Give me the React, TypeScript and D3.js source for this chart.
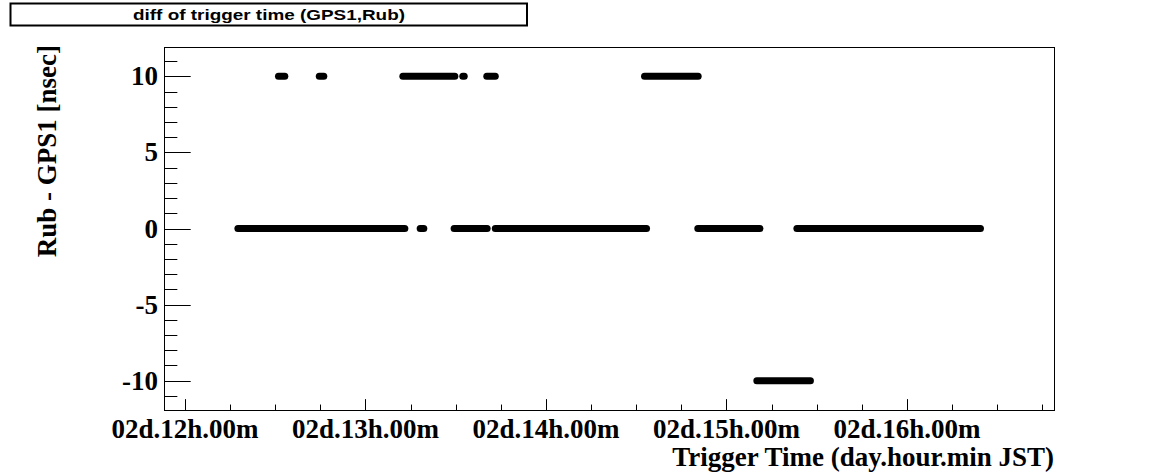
import React from "react";
import * as d3 from "d3";

// Time in hours (day 02), values in nsec
const segStart = [12.518, 12.744, 13.207, 13.539, 13.672, 14.546, 12.293, 13.303, 13.491, 13.719, 14.841, 15.390, 15.168];
const segEnd =   [12.553, 12.769, 13.495, 13.547, 13.719, 14.843, 13.218, 13.323, 13.674, 14.557, 15.185, 16.407, 15.465];
const segValue = [10, 10, 10, 10, 10, 10, 0, 0, 0, 0, 0, 0, -10];

const xMajor = [12, 13, 14, 15, 16];
const xMajorLabels = ["02d.12h.00m", "02d.13h.00m", "02d.14h.00m", "02d.15h.00m", "02d.16h.00m"];
const yMajor = [-10, -5, 0, 5, 10];
const yMajorLabels = ["-10", "-5", "0", "5", "10"];

const W = 1172, H = 474;
const L = 164, R = 1054, T = 47, B = 410;

export default function App() {
  const x = d3.scaleLinear().domain([11.8837, 16.8144]).range([L, R]);
  const y = d3.scaleLinear().domain([-11.93, 11.93]).range([B, T]);
  const xMinor = d3.range(12, 16.8, 0.25).filter((v) => x(v) <= R && !xMajor.includes(v));
  const yMinor = d3.range(-11, 12, 1).filter((v) => !yMajor.includes(v));
  const serif = "'Liberation Serif', 'Times New Roman', serif";
  const sans = "'Liberation Sans', Arial, sans-serif";
  const yTickLen = 0.03 * (R - L);
  const xTickLen = 0.03 * (B - T);
  return (
    <svg width={W} height={H} style={{ position: "absolute", left: 0, top: 0, background: "#fff" }}>
      <rect x={0} y={0} width={W} height={H} fill="#fff" />
      {/* title box */}
      <rect x={10.5} y={3.5} width={516.5} height={22} fill="#fff" stroke="#000" strokeWidth={2} />
      <text x={133} y={20} fontFamily={sans} fontWeight="bold" fontSize={15} textLength={272} lengthAdjust="spacingAndGlyphs">
        diff of trigger time (GPS1,Rub)
      </text>
      {/* frame */}
      <rect x={L + 0.5} y={T + 0.5} width={R - L} height={B - T} fill="none" stroke="#000" strokeWidth={1} />
      {/* data */}
      <g stroke="#000" strokeWidth={7} strokeLinecap="round">
        {segStart.map((s, i) => (
          <line key={i} x1={x(s)} x2={x(segEnd[i])} y1={y(segValue[i])} y2={y(segValue[i])} />
        ))}
      </g>
      {/* ticks */}
      <g stroke="#000" strokeWidth={1}>
        {xMajor.map((v) => (
          <line key={"xm" + v} x1={Math.round(x(v)) + 0.5} x2={Math.round(x(v)) + 0.5} y1={B} y2={B - xTickLen} />
        ))}
        {xMinor.map((v) => (
          <line key={"xn" + v} x1={Math.round(x(v)) + 0.5} x2={Math.round(x(v)) + 0.5} y1={B} y2={B - xTickLen / 2} />
        ))}
        {yMajor.map((v) => (
          <line key={"ym" + v} x1={L} x2={L + yTickLen} y1={Math.round(y(v)) + 0.5} y2={Math.round(y(v)) + 0.5} />
        ))}
        {yMinor.map((v) => (
          <line key={"yn" + v} x1={L} x2={L + yTickLen / 2} y1={Math.round(y(v)) + 0.5} y2={Math.round(y(v)) + 0.5} />
        ))}
      </g>
      {/* tick labels */}
      <g fontFamily={serif} fontWeight="bold" fontSize={27}>
        {xMajor.map((v, i) => (
          <text key={"xl" + v} x={x(v)} y={438} textAnchor="middle">{xMajorLabels[i]}</text>
        ))}
        {yMajor.map((v, i) => (
          <text key={"yl" + v} x={L - 6} y={y(v) + 9} textAnchor="end">{yMajorLabels[i]}</text>
        ))}
      </g>
      {/* axis titles */}
      <text x={R} y={466} textAnchor="end" fontFamily={serif} fontWeight="bold" fontSize={27}>
        Trigger Time (day.hour.min JST)
      </text>
      <text transform={`translate(56, ${T - 2}) rotate(-90)`} textAnchor="end" fontFamily={serif} fontWeight="bold" fontSize={27}>
        Rub - GPS1 [nsec]
      </text>
    </svg>
  );
}
